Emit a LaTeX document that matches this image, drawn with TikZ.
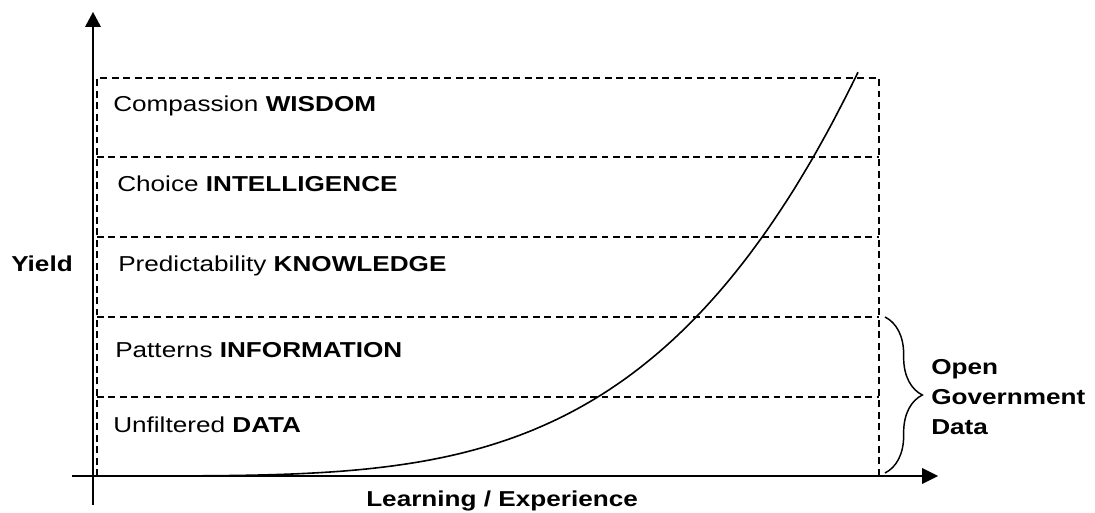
\documentclass[tikz,border=0pt]{standalone}
\usepackage{fontspec}
\setmainfont[FakeStretch=1.21]{Liberation Sans}
\usepackage{tikz}
\usetikzlibrary{decorations.pathreplacing}

\begin{document}
\begin{tikzpicture}[x=0.75pt,y=0.75pt,
  font=\fontsize{16.2pt}{22.5pt}\selectfont,
  band/.style={line width=1.1pt,dash pattern=on 5.2pt off 3.4pt},
  lbl/.style={anchor=base west,inner sep=0pt}]
\useasboundingbox (0,0) rectangle (1095,513);
%levels
\draw [band] (97,37) -- (97,435) -- (879,435) -- (879,37);
\draw [band] (97,356) -- (879,356);
\draw [band] (97,276) -- (879,276);
\draw [band] (97,196) -- (879,196);
\draw [band] (97,116) -- (879,116);
%curve
\draw [line width=1.2pt] (97,37) -- plot[domain=1:761,samples=120] ({97+\x},{37+404*(\x/761)^3.9});
%y
\coordinate (yTip) at (93,501);
\draw [line width=1.5pt] (93,8) -- (93,488);
\fill [shift={(yTip)},rotate=90] (0,0) -- (-15,8) -- (-15,-8) -- cycle;
%x
\coordinate (xTip) at (938,37);
\draw [line width=1.5pt] (72,37) -- (924,37);
\fill [shift={(xTip)},rotate=0] (0,0) -- (-16,8) -- (-16,-8) -- cycle;
%brace
\coordinate (braceTop) at (885,196);
\coordinate (braceBot) at (885,40);
\draw [line width=1.1pt,decorate,decoration={brace,amplitude=28pt}] (braceTop) -- (braceBot);
%Text
\node [lbl] (wisdom) at (113,401) {Compassion \textbf{WISDOM}};
\node [lbl] (intel) at (117,321) {Choice \textbf{INTELLIGENCE}};
\node [lbl] (know) at (118,241) {Predictability \textbf{KNOWLEDGE}};
\node [lbl] (info) at (115,155) {Patterns \textbf{INFORMATION}};
\node [lbl] (data) at (113,80) {Unfiltered \textbf{DATA}};
\node [lbl] (yield) at (11,241) {\textbf{Yield}};
\node [lbl] (learn) at (366,6) {\textbf{Learning / Experience}};
\node [anchor=west,inner sep=0pt,align=left,font=\fontsize{16.2pt}{22.5pt}\selectfont\bfseries] (ogd) at (931,116) {Open\\Government\\Data};
\end{tikzpicture}
\end{document}
